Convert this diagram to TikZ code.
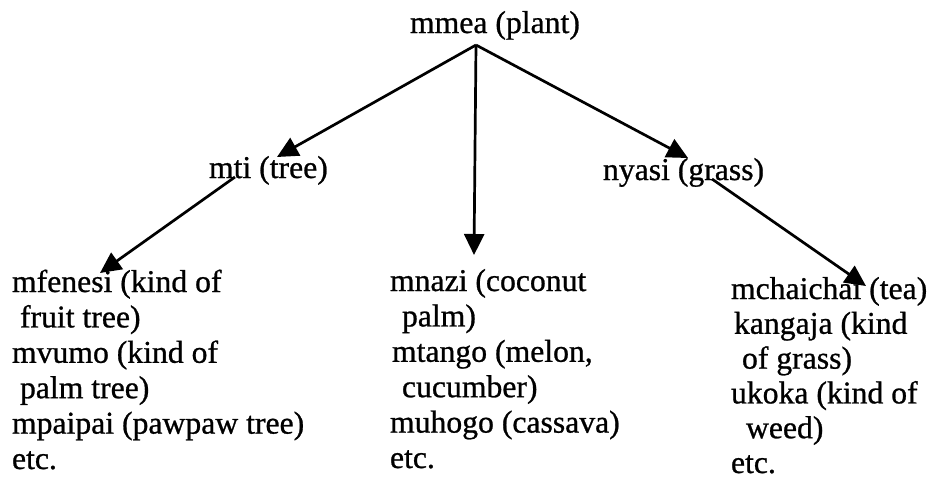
\documentclass[tikz,border=0pt]{standalone}
\usepackage{fontspec}
\setmainfont{Liberation Serif}[FakeBold=0.8]
\usetikzlibrary{arrows.meta,calc}
\begin{document}
\begin{tikzpicture}[x=1pt,y=-1pt,
  lbl/.style={anchor=base west,inner sep=0pt,outer sep=0pt,
    font=\fontsize{31.7pt}{35pt}\selectfont},
  arr/.style={line width=2.7pt,
    -{Triangle[length=21pt,width=20pt]}}]
\path[use as bounding box] (0,0) rectangle (930,479);

% top level
\node[lbl] (mmea) at (410,33) {mmea (plant)};
\coordinate (apex) at ($(mmea.base west)+(66,12)$);

% second level
\node[lbl] (mti) at (209,178) {mti (tree)};
\node[lbl] (nyasi) at (603,180) {nyasi (grass)};

% tree column
\node[lbl] (t1) at (12,292) {mfenesi (kind of};
\node[lbl] (t2) at (20,327.4) {fruit tree)};
\node[lbl] (t3) at (12,362.8) {mvumo (kind of};
\node[lbl] (t4) at (20,398.2) {palm tree)};
\node[lbl] (t5) at (12,433.6) {mpaipai (pawpaw tree)};
\node[lbl] (t6) at (12,469) {etc.};

% plant column
\node[lbl] (p1) at (390,291) {mnazi (coconut};
\node[lbl] (p2) at (402,326.4) {palm)};
\node[lbl] (p3) at (392,361.8) {mtango (melon,};
\node[lbl] (p4) at (402,397.2) {cucumber)};
\node[lbl] (p5) at (390,432.6) {muhogo (cassava)};
\node[lbl] (p6) at (390,468) {etc.};

% grass column
\node[lbl] (g1) at (731,299) {mchaichai (tea)};
\node[lbl] (g2) at (734,333.8) {kangaja (kind};
\node[lbl] (g3) at (742,368.6) {of grass)};
\node[lbl] (g4) at (731,403.4) {ukoka (kind of};
\node[lbl] (g5) at (746,438.2) {weed)};
\node[lbl] (g6) at (731,473) {etc.};

% connectors
\draw[arr] (apex) -- ($(mti.base west)+(68,-21)$);
\draw[arr] (apex) -- ($(nyasi.base west)+(85,-22)$);
\draw[arr] (apex) -- ($(p1.base west)+(84,-36)$);
\draw[arr] ($(mti.base west)+(26,-1)$) -- ($(t1.base west)+(88,-19)$);
\draw[arr] ($(nyasi.base west)+(109,-1)$) -- ($(g1.base west)+(135,-13)$);
\end{tikzpicture}
\end{document}
